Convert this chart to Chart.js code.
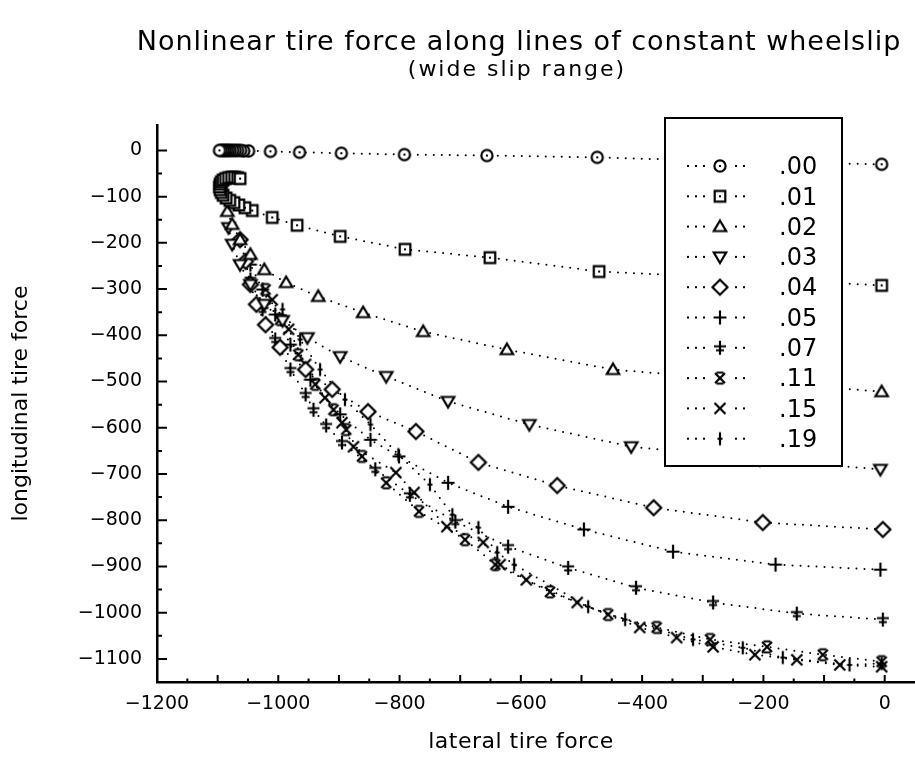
<!DOCTYPE html>
<html>
<head>
<meta charset="utf-8">
<script src="https://cdn.jsdelivr.net/npm/chart.js@4.4.1/dist/chart.umd.min.js"></script>
<style>
    html, body { margin: 0; padding: 0; background: #fff; }
    #wrap { position: relative; width: 915px; height: 769px; overflow: hidden; }
    .caption { position: absolute; text-align: center; color: #000; font-family: "DejaVu Sans", sans-serif; line-height: 1; white-space: nowrap; }
    #title { left: 119px; width: 800px; top: 27px; font-size: 27px; letter-spacing: 1px; }
    #subtitle { left: 117px; width: 800px; top: 58px; font-size: 22px; letter-spacing: 2px; }
    #xtitle { left: 321px; width: 400px; top: 730px; font-size: 22px; letter-spacing: 0.5px; }
    canvas { position: absolute; left: 0; top: 0; }
</style>
</head>
<body>
<div id="wrap">
    <canvas id="tire-chart" width="915" height="769"></canvas>
    <div id="title" class="caption">Nonlinear tire force along lines of constant wheelslip</div>
    <div id="subtitle" class="caption">(wide slip range)</div>
    <div id="xtitle" class="caption">lateral tire force</div>
</div>
<script>
// wheelslip values shown in the legend, one marker style each
const slipLabels = [".00", ".01", ".02", ".03", ".04", ".05", ".07", ".11", ".15", ".19"];
const slipMarkers = ["circle", "square", "triUp", "triDown", "diamond", "plus", "doubleCross", "barredX", "cross", "tick"];

// lateral / longitudinal tire force (right end = zero slip angle)
const lateral00 = [-5, -239, -474, -656, -792, -896, -965, -1013, -1049, -1057, -1062, -1067, -1071, -1075, -1079, -1082, -1085, -1088, -1091, -1094, -1097];
const longit00  = [-30, -24, -15, -11, -9, -6, -4, -2, -1, -1, 0, 0, 0, 0, 0, 0, 0, 0, 0, 0, 0];

const lateral01 = [-5, -231, -471, -651, -791, -898, -969, -1010, -1043, -1055, -1065, -1073, -1080, -1086, -1091, -1094, -1096, -1097, -1096, -1094, -1091, -1087, -1082, -1077, -1072, -1067, -1063];
const longit01  = [-292, -277, -262, -232, -214, -186, -162, -145, -130, -124, -118, -113, -108, -103, -97, -91, -85, -79, -73, -68, -64, -61, -59, -58, -58, -59, -61];

const lateral02 = [-5, -214, -448, -623, -761, -860, -934, -987, -1023, -1046, -1063, -1076, -1084];
const longit02  = [-522, -500, -474, -431, -392, -351, -316, -286, -258, -225, -193, -160, -132];

const lateral03 = [-7, -206, -418, -586, -720, -822, -898, -952, -993, -1023, -1046, -1063, -1076, -1082];
const longit03  = [-690, -669, -641, -593, -543, -489, -446, -405, -368, -333, -290, -247, -203, -167];

const lateral04 = [-3, -201, -381, -540, -670, -773, -852, -911, -955, -997, -1021, -1036, -1046, -1054, -1063];
const longit04  = [-820, -805, -773, -725, -675, -608, -565, -517, -474, -426, -377, -333, -290, -240, -193];

const lateral05 = [-7, -180, -349, -496, -621, -720, -801, -848, -898, -947, -980, -1005, -1026, -1046];
const longit05  = [-907, -896, -868, -820, -771, -719, -662, -626, -571, -496, -420, -355, -301, -247];

const lateral07 = [-3, -145, -283, -410, -522, -621, -708, -783, -840, -895, -921, -942, -955, -980, -1005, -1026, -1046];
const longit07  = [-1015, -1002, -978, -946, -903, -857, -803, -745, -690, -632, -595, -561, -528, -474, -409, -344, -279];

const lateral11 = [-5, -102, -194, -288, -376, -456, -552, -642, -692, -768, -822, -862, -888, -909, -939, -967, -997, -1021];
const longit11  = [-1106, -1091, -1074, -1058, -1032, -1004, -955, -896, -842, -781, -719, -662, -604, -561, -506, -442, -366, -301];

const lateral15 = [-5, -74, -145, -214, -283, -343, -404, -507, -591, -634, -662, -722, -776, -806, -876, -895, -923, -955, -983, -1010];
const longit15  = [-1117, -1113, -1102, -1091, -1074, -1054, -1032, -978, -929, -896, -848, -814, -740, -697, -641, -589, -535, -463, -387, -323];

const lateral19 = [-5, -58, -168, -234, -316, -428, -489, -611, -639, -670, -713, -750, -802, -848, -890, -931, -964, -993];
const longit19  = [-1110, -1113, -1097, -1076, -1058, -1015, -987, -896, -870, -816, -788, -723, -658, -593, -539, -474, -409, -344];

const lateralSeries = [lateral00, lateral01, lateral02, lateral03, lateral04, lateral05, lateral07, lateral11, lateral15, lateral19];
const longitSeries = [longit00, longit01, longit02, longit03, longit04, longit05, longit07, longit11, longit15, longit19];

const FONT = "'DejaVu Sans', sans-serif";

function makeMarker(kind) {
    const c = document.createElement("canvas");
    c.width = 20; c.height = 20;
    const g = c.getContext("2d");
    g.translate(10, 10);
    g.strokeStyle = "#000";
    g.fillStyle = "#fff";
    g.lineWidth = 2.2;
    g.beginPath();
    let closed = true, dot = false;
    switch (kind) {
        case "circle": g.arc(0, 0, 5.6, 0, Math.PI * 2); dot = true; break;
        case "square": g.rect(-5.3, -5.3, 10.6, 10.6); dot = true; break;
        case "triUp": g.moveTo(0, -6); g.lineTo(6.2, 4.5); g.lineTo(-6.2, 4.5); g.closePath(); break;
        case "triDown": g.moveTo(0, 6); g.lineTo(6.2, -4.5); g.lineTo(-6.2, -4.5); g.closePath(); break;
        case "diamond": g.moveTo(0, -7.5); g.lineTo(7.5, 0); g.lineTo(0, 7.5); g.lineTo(-7.5, 0); g.closePath(); break;
        default: closed = false;
    }
    if (closed) {
        g.fill();
        g.stroke();
        if (dot) { g.fillStyle = "#000"; g.fillRect(-1, -1, 2, 2); }
        return c;
    }
    const seg = (x1, y1, x2, y2) => { g.moveTo(x1, y1); g.lineTo(x2, y2); };
    if (kind === "plus") { seg(-6.5, 0, 6.5, 0); seg(0, -7, 0, 7); }
    if (kind === "doubleCross") { seg(0, -7, 0, 7); seg(-6, -1.5, 6, -1.5); seg(-4, 2.5, 4, 2.5); }
    if (kind === "barredX") { seg(-5, -5, 5, 5); seg(5, -5, -5, 5); seg(-3.5, -5.5, 3.5, -5.5); seg(-3.5, 5.5, 3.5, 5.5); }
    if (kind === "cross") { seg(-5.5, -5.5, 5.5, 5.5); seg(5.5, -5.5, -5.5, 5.5); }
    if (kind === "tick") { seg(0, -6.5, 0, 6.5); seg(-2.5, 0, 2.5, 0); }
    g.stroke();
    return c;
}

const markerImages = slipMarkers.map(makeMarker);

function fmtMinus(v) {
    return v === 0 ? "0" : (v < 0 ? "\u2212" : "") + Math.abs(v);
}

const innerTicks = {
    id: "innerTicks",
    afterDraw(chart) {
        const { ctx, chartArea: a, scales: { x, y } } = chart;
        ctx.save();
        ctx.strokeStyle = "#000";
        ctx.lineWidth = 2;
        ctx.beginPath();
        x.ticks.forEach(t => {
            if (t.value % 50 !== 0 || t.value > 0) return;
            const px = x.getPixelForValue(t.value);
            const len = t.value % 100 === 0 ? 7 : 3.5;
            ctx.moveTo(px, a.bottom); ctx.lineTo(px, a.bottom - len);
        });
        y.ticks.forEach(t => {
            if (t.value % 50 !== 0 || t.value <= y.min) return;
            const py = y.getPixelForValue(t.value);
            const len = t.value % 100 === 0 ? 10 : 5;
            ctx.moveTo(a.left, py); ctx.lineTo(a.left + len, py);
        });
        ctx.stroke();
        ctx.restore();
    }
};

const boxLegend = {
    id: "boxLegend",
    afterDatasetsDraw(chart) {
        const ctx = chart.ctx;
        const box = { left: 665, top: 118, width: 177, height: 348 };
        ctx.save();
        ctx.fillStyle = "#fff";
        ctx.fillRect(box.left, box.top, box.width, box.height);
        ctx.strokeStyle = "#000";
        ctx.lineWidth = 2;
        ctx.strokeRect(box.left, box.top, box.width, box.height);
        ctx.font = "24px " + FONT;
        ctx.textBaseline = "middle";
        ctx.textAlign = "left";
        slipLabels.forEach((label, i) => {
            const rowY = 166 + i * 30.3;
            ctx.fillStyle = "#000";
            [688, 696, 704, 736, 744].forEach(dx => ctx.fillRect(dx - 1, rowY - 1, 2, 2));
            const img = markerImages[i];
            ctx.drawImage(img, 720 - img.width / 2, rowY - img.height / 2);
            ctx.fillText(label, 779, rowY + 2);
        });
        ctx.restore();
    }
};

new Chart(document.getElementById("tire-chart"), {
    type: "scatter",
    data: {
        datasets: slipLabels.map((label, i) => ({
            label,
            data: lateralSeries[i].map((v, k) => ({ x: v, y: longitSeries[i][k] })),
            showLine: true,
            borderColor: "#000",
            borderWidth: 2,
            borderDash: [0, 8],
            borderCapStyle: "round",
            pointStyle: markerImages[i],
            pointRadius: 6,
            pointHoverRadius: 6
        }))
    },
    options: {
        responsive: false,
        animation: false,
        devicePixelRatio: 1,
        layout: { autoPadding: false, padding: { top: 125, right: 0, bottom: 0, left: 0 } },
        plugins: { legend: { display: false }, tooltip: { enabled: false } },
        scales: {
            x: {
                type: "linear",
                min: -1200,
                max: 50,
                grid: { display: false, drawTicks: false },
                border: { display: true, color: "#000", width: 2.5 },
                ticks: {
                    stepSize: 50,
                    autoSkip: false,
                    maxRotation: 0,
                    padding: 11,
                    color: "#000",
                    font: { family: FONT, size: 19 },
                    callback: v => (v % 200 === 0 && v <= 0) ? fmtMinus(v) : ""
                },
                afterFit: s => { s.height = 87; s.paddingLeft = 0; s.paddingRight = 0; }
            },
            y: {
                type: "linear",
                min: -1150,
                max: 55,
                grid: { display: false, drawTicks: false },
                border: { display: true, color: "#000", width: 2.5 },
                ticks: {
                    stepSize: 50,
                    autoSkip: false,
                    padding: 15,
                    color: "#000",
                    font: { family: FONT, size: 19 },
                    callback: v => (v % 100 === 0) ? fmtMinus(v) : ""
                },
                title: { display: true, text: "longitudinal tire force", color: "#000", font: { family: FONT, size: 22 }, padding: { top: 8, bottom: 0 } },
                afterFit: s => { s.width = 157; s.paddingTop = 0; s.paddingBottom = 0; }
            }
        }
    },
    plugins: [innerTicks, boxLegend]
});
</script>
</body>
</html>
